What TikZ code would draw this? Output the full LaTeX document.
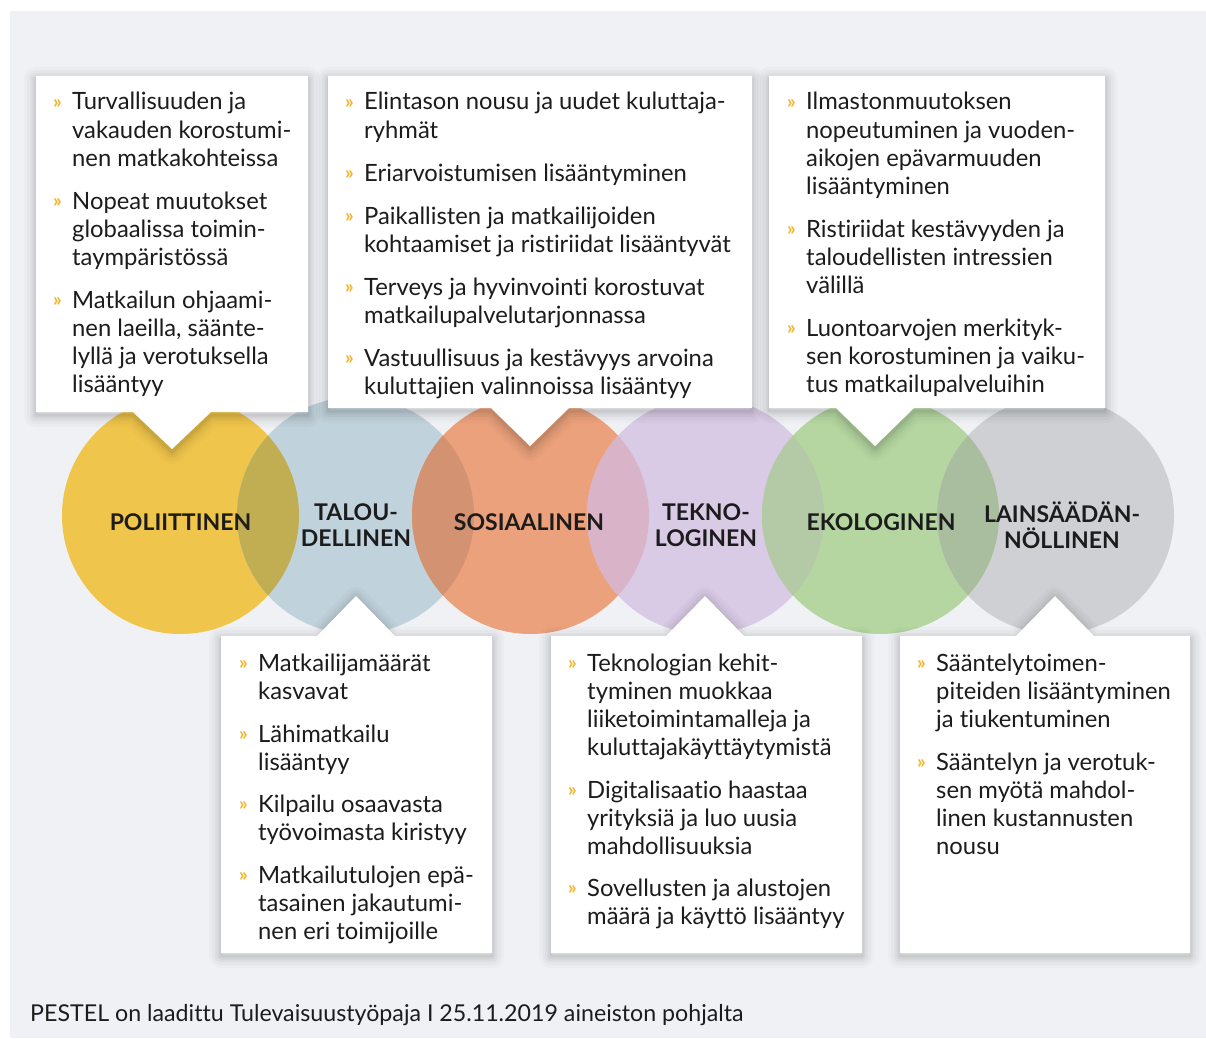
\documentclass[tikz,border=0pt]{standalone}
\usepackage{fontspec}
\setmainfont{Lato}[Ligatures={NoCommon}]
\definecolor{bgc}{HTML}{F0F1F5}
\definecolor{txt}{HTML}{1C1C1C}
\definecolor{bul}{HTML}{F2B52A}
\definecolor{cY}{HTML}{F0C54B}
\definecolor{cB}{HTML}{C0D2DB}
\definecolor{cO}{HTML}{EBA17B}
\definecolor{cL}{HTML}{D9CAE5}
\definecolor{cG}{HTML}{B5D6A1}
\definecolor{cR}{HTML}{CFD0D3}
\definecolor{oYB}{HTML}{C1AD52}
\definecolor{oBO}{HTML}{D39272}
\definecolor{oOL}{HTML}{D9B4C9}
\definecolor{oLG}{HTML}{B4C9A6}
\definecolor{oGR}{HTML}{A9BD9F}
\newcommand\pbitem[4]{%
  \node[bulletmark] (#1b) at (#2-19,#3-1.5) {»};
  \foreach \ln [count=\i from 0] in {#4}{\node[bodytext] (#1l\i) at (#2,#3+28*\i) {\ln};}%
}
\newcommand\pbshadow[1]{%
  \foreach \w/\o in {24/0.02,18/0.025,12/0.03,7/0.04,3/0.05}{%
    \draw[black,opacity=\o,line width=\w pt,line join=round,shift={(0,3)}] #1;}%
  \fill[white] #1;%
}
\begin{document}
\begin{tikzpicture}[x=1pt,y=-1pt,
  circ/.style={circle,inner sep=0pt,minimum size=237pt},
  lbl/.style={font=\fontsize{23}{26}\selectfont\bfseries,text=txt,align=center,inner sep=0pt},
  bodytext/.style={font=\fontsize{23.8}{28}\selectfont,text=txt,anchor=base west,inner sep=0pt},
  bulletmark/.style={font=\fontsize{19}{20}\selectfont\bfseries,text=bul,anchor=base west,inner sep=0pt},
  foot/.style={font=\fontsize{23.2}{26}\selectfont,text=txt,anchor=base west,inner sep=0pt}]
\useasboundingbox (0,0) rectangle (1206,1038);
\fill[bgc] (10,11) rectangle (1206,1038);
% circles
\node[circ,fill=cY] (cP) at (180.5,515.5) {};
\node[circ,fill=cB] (cE) at (355.5,515.5) {};
\node[circ,fill=cO] (cS) at (530.5,515.5) {};
\node[circ,fill=cL] (cT) at (705.5,515.5) {};
\node[circ,fill=cG] (cEk) at (880.5,515.5) {};
\node[circ,fill=cR] (cLa) at (1055.5,515.5) {};
\foreach \a/\b/\c in {cP/cE/oYB,cE/cS/oBO,cS/cT/oOL,cT/cEk/oLG,cEk/cLa/oGR}{
  \begin{scope}
    \clip (\a.center) circle[radius=118.5pt];
    \fill[\c] (\b.center) circle[radius=118.5pt];
  \end{scope}}
\node[lbl] (lP) at (180.5,522) {POLIITTINEN};
\node[lbl] (lE) at (356,525) {TALOU-\\DELLINEN};
\node[lbl] (lS) at (529,522) {SOSIAALINEN};
\node[lbl] (lT) at (706,525) {TEKNO-\\LOGINEN};
\node[lbl] (lEk) at (881,522) {EKOLOGINEN};
\node[lbl] (lLa) at (1062,525) {LAINSÄÄDÄN-\\NÖLLINEN};
% boxes
\pbshadow{(36,76) -- (308,76) -- (308,412) -- (211,412) -- (172,449) -- (133,412) -- (36,412) -- cycle}
\pbshadow{(328,76) -- (752,76) -- (752,408) -- (569,408) -- (530,446) -- (491,408) -- (328,408) -- cycle}
\pbshadow{(769,76) -- (1105,76) -- (1105,408) -- (914,408) -- (875,446) -- (836,408) -- (769,408) -- cycle}
\pbshadow{(221,636) -- (317,636) -- (356,596) -- (395,636) -- (492,636) -- (492,953) -- (221,953) -- cycle}
\pbshadow{(551,636) -- (666,636) -- (705,596) -- (744,636) -- (862,636) -- (862,953) -- (551,953) -- cycle}
\pbshadow{(900,636) -- (1016,636) -- (1055,596) -- (1094,636) -- (1190,636) -- (1190,953) -- (900,953) -- cycle}
% box 1
\pbitem{p1}{72}{110}{Turvallisuuden ja,vakauden korostumi-,nen matkakohteissa}
\pbitem{p2}{72}{209}{Nopeat muutokset,globaalissa toimin-,taympäristössä}
\pbitem{p3}{72}{308}{Matkailun ohjaami-,{nen laeilla, säänte-},{lyllä ja verotuksella},lisääntyy}
% box 2
\pbitem{s1}{364}{110}{Elintason nousu ja uudet kuluttaja-,ryhmät}
\pbitem{s2}{364}{181}{Eriarvoistumisen lisääntyminen}
\pbitem{s3}{364}{224}{Paikallisten ja matkailijoiden,kohtaamiset ja ristiriidat lisääntyvät}
\pbitem{s4}{364}{295}{Terveys ja hyvinvointi korostuvat,matkailupalvelutarjonnassa}
\pbitem{s5}{364}{366}{Vastuullisuus ja kestävyys arvoina,kuluttajien valinnoissa lisääntyy}
% box 3
\pbitem{k1}{806}{110}{Ilmastonmuutoksen,nopeutuminen ja vuoden-,aikojen epävarmuuden,lisääntyminen}
\pbitem{k2}{806}{237}{Ristiriidat kestävyyden ja,taloudellisten intressien,välillä}
\pbitem{k3}{806}{336}{Luontoarvojen merkityk-,sen korostuminen ja vaiku-,tus matkailupalveluihin}
% box 4
\pbitem{e1}{258}{671}{Matkailijamäärät,kasvavat}
\pbitem{e2}{258}{742}{Lähimatkailu,lisääntyy}
\pbitem{e3}{258}{812}{Kilpailu osaavasta,työvoimasta kiristyy}
\pbitem{e4}{258}{883}{Matkailutulojen epä-,tasainen jakautumi-,nen eri toimijoille}
% box 5
\pbitem{t1}{587}{671}{Teknologian kehit-,tyminen muokkaa,liiketoimintamalleja ja,kuluttajakäyttäytymistä}
\pbitem{t2}{587}{798}{Digitalisaatio haastaa,yrityksiä ja luo uusia,mahdollisuuksia}
\pbitem{t3}{587}{896}{Sovellusten ja alustojen,määrä ja käyttö lisääntyy}
% box 6
\pbitem{l1}{936}{671}{Sääntelytoimen-,piteiden lisääntyminen,ja tiukentuminen}
\pbitem{l2}{936}{770}{Sääntelyn ja verotuk-,sen myötä mahdol-,linen kustannusten,nousu}
% footer
\node[foot] (ft) at (30,1021) {PESTEL on laadittu Tulevaisuustyöpaja I 25.11.2019 aineiston pohjalta};
\end{tikzpicture}
\end{document}
